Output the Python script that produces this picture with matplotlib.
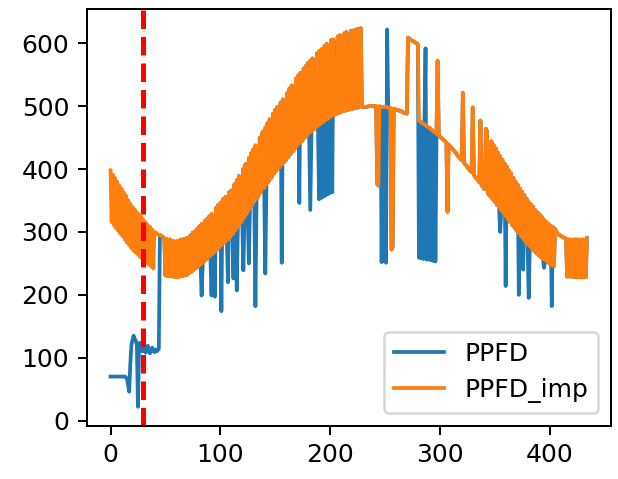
import matplotlib
matplotlib.use("Agg")
import matplotlib.pyplot as plt

# PPFD_imp (imputed series), one value per time step 0..434
ppfd_imp = [
    398, 316, 391, 311, 386, 306, 380, 302, 374, 297,
    369, 293, 363, 288, 358, 283, 351, 279, 345, 274,
    340, 270, 336, 267, 331, 264, 328, 260, 324, 257,
    319, 254, 315, 251, 311, 248, 308, 245, 304, 242,
    300, 299, 298, 296, 295, 295, 294, 293, 291, 290,
    231, 289, 230, 230, 288, 230, 286, 229, 285, 228,
    285, 228, 286, 229, 288, 230, 230, 289, 231, 290,
    232, 291, 235, 295, 237, 299, 240, 301, 243, 305,
    245, 309, 248, 313, 251, 253, 318, 256, 321, 259,
    325, 262, 329, 265, 267, 269, 338, 272, 343, 275,
    346, 279, 350, 353, 283, 356, 287, 288, 363, 291,
    366, 296, 298, 376, 303, 383, 308, 389, 313, 316,
    318, 401, 323, 408, 329, 332, 418, 337, 425, 342,
    431, 348, 438, 353, 355, 358, 450, 363, 456, 460,
    370, 466, 375, 473, 380, 479, 385, 388, 488, 393,
    494, 397, 499, 401, 403, 506, 407, 511, 411, 413,
    415, 521, 419, 528, 424, 533, 428, 430, 433, 544,
    437, 549, 441, 553, 444, 446, 560, 450, 564, 453,
    569, 457, 573, 460, 576, 463, 464, 466, 584, 469,
    588, 471, 591, 474, 475, 596, 478, 599, 480, 482,
    483, 605, 485, 606, 486, 487, 488, 611, 489, 613,
    491, 492, 492, 616, 493, 618, 494, 495, 495, 620,
    496, 496, 621, 497, 497, 623, 498, 623, 624, 499,
    499, 499, 499, 499, 499, 500, 500, 500, 500, 500,
    500, 500, 500, 376, 374, 500, 499, 499, 499, 499,
    499, 499, 498, 498, 497, 497, 272, 276, 496, 495,
    495, 494, 494, 493, 492, 492, 491, 490, 489, 489,
    488, 609, 608, 606, 605, 604, 603, 602, 601, 600,
    598, 477, 476, 474, 473, 472, 471, 470, 468, 467,
    466, 465, 463, 462, 460, 459, 458, 456, 572, 453,
    452, 450, 449, 447, 445, 444, 442, 332, 439, 437,
    435, 433, 431, 429, 427, 425, 422, 420, 418, 416,
    414, 521, 410, 408, 406, 404, 401, 399, 397, 395,
    498, 391, 388, 386, 384, 382, 379, 477, 375, 372,
    370, 368, 464, 460, 361, 359, 357, 444, 352, 438,
    348, 433, 343, 426, 339, 421, 334, 415, 330, 409,
    325, 404, 320, 398, 316, 393, 311, 386, 307, 380,
    302, 375, 298, 369, 293, 364, 289, 359, 284, 353,
    280, 348, 277, 344, 273, 340, 270, 335, 266, 331,
    263, 328, 260, 324, 257, 320, 255, 316, 252, 313,
    249, 310, 247, 308, 246, 305, 300, 298, 296, 295,
    294, 293, 292, 291, 290, 289, 229, 288, 229, 288,
    229, 229, 288, 228, 288, 228, 288, 228, 228, 288,
    228, 288, 228, 228, 290,
]

# Measured PPFD at the start (steps 0..44), before it joins the imputed series
ppfd_start = [
    70, 70, 70, 70, 70, 70, 70, 70, 70, 70,
    70, 70, 70, 70, 69, 66, 57, 46, 90, 120,
    128, 135, 130, 127, 121, 22, 120, 124, 116, 110,
    118, 112, 108, 115, 119, 110, 107, 112, 116, 111,
    109, 113, 110, 112, 114,
]

# Steps where the measured PPFD differs from the imputed series
ppfd_diff = {
    83: 199, 92: 199, 95: 197, 101: 174, 107: 220, 112: 226, 115: 207,
    121: 239, 126: 250, 132: 182, 141: 234, 156: 251, 172: 346, 182: 335,
    190: 352, 192: 354, 194: 356, 196: 358, 198: 360, 200: 362, 202: 363,
    247: 252, 249: 254, 251: 251, 252: 622,
    281: 259, 283: 258, 285: 257, 287: 592, 288: 256, 290: 256, 292: 255,
    294: 254, 296: 253,
    355: 300, 360: 214, 372: 200, 376: 240, 381: 195, 395: 243, 402: 182,
}

cutoff_step = 30

steps = list(range(len(ppfd_imp)))
ppfd = list(ppfd_imp)
ppfd[:len(ppfd_start)] = ppfd_start
for k, v in ppfd_diff.items():
    ppfd[k] = v

fig = plt.figure(figsize=(618 / 180, 479 / 180), dpi=180)
ax = fig.add_axes([0.1403, 0.1113, 0.8479, 0.8693])
ax.plot(steps, ppfd, color="#1f77b4", lw=1.5, label="PPFD")
ax.plot(steps, ppfd_imp, color="#ff7f0e", lw=1.5, label="PPFD_imp")
ax.axvline(cutoff_step, color="red", linestyle="--", lw=2)
ax.set_xticks([0, 100, 200, 300, 400])
ax.set_yticks([0, 100, 200, 300, 400, 500, 600])
ax.legend(loc="lower right")
fig.savefig("out.png", dpi=180)
